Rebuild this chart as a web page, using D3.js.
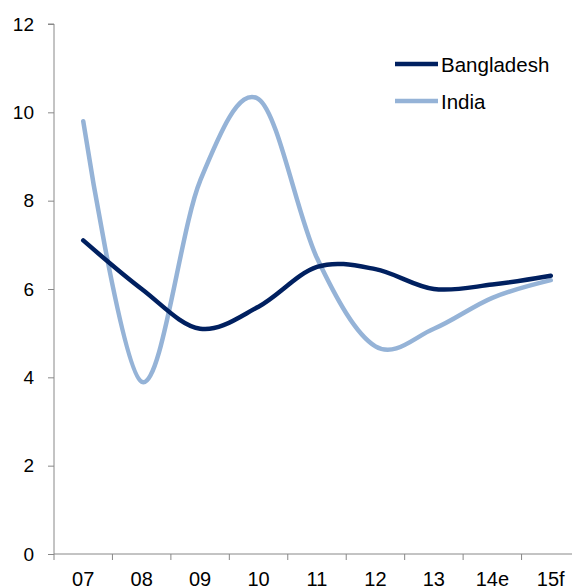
<!DOCTYPE html>
<html>
<head>
<meta charset="utf-8">
<script src="https://cdnjs.cloudflare.com/ajax/libs/d3/7.8.5/d3.min.js"></script>
<style>
  body { margin: 0; background: #fff; }
  svg { display: block; font-family: "Liberation Sans", Arial, sans-serif; }
</style>
</head>
<body>
<svg id="chart" width="572" height="588"></svg>
<script>
"use strict"

const years = ["07", "08", "09", "10", "11", "12", "13", "14e", "15f"]
const bangladesh = [7.1, 6.0, 5.1, 5.6, 6.5, 6.45, 6.0, 6.1, 6.3]
const india = [9.8, 3.9, 8.45, 10.3, 6.7, 4.7, 5.1, 5.8, 6.2]
const yTicks = [0, 2, 4, 6, 8, 10, 12]

const series = [
    {name: "Bangladesh", values: bangladesh, color: "#002060"},
    {name: "India", values: india, color: "#95b3d7"}
]

const svg = d3.select("#chart")
const plot = {left: 54, top: 24, bottom: 554, right: 580}

let x = d3.scaleBand().domain(years).range([plot.left, plot.right])
let y = d3.scaleLinear().domain([0, 12]).range([plot.bottom, plot.top])

// y axis
let yAxis = svg.append("g")
    .attr("transform", "translate(" + plot.left + ",0)")
    .call(d3.axisLeft(y).tickValues(yTicks).tickSize(6))
yAxis.select(".domain").attr("stroke", "#888").attr("d", "M-6," + plot.top + "H0V" + plot.bottom)
yAxis.selectAll(".tick line").attr("stroke", "#888")
yAxis.selectAll(".tick text")
    .attr("fill", "#000")
    .style("font-size", "19px")
    .attr("x", -20)

// x axis, ticks at band edges
let xg = svg.append("g").attr("transform", "translate(0," + plot.bottom + ")")
xg.append("line")
    .attr("x1", plot.left).attr("x2", 572)
    .attr("stroke", "#888")
xg.selectAll(".edge")
    .data(years)
    .enter().append("line")
    .attr("class", "edge")
    .attr("x1", d => x(d)).attr("x2", d => x(d))
    .attr("y1", 0).attr("y2", 6)
    .attr("stroke", "#888")
xg.selectAll("text")
    .data(years)
    .enter().append("text")
    .attr("x", d => x(d) + x.bandwidth() / 2)
    .attr("y", 32)
    .attr("text-anchor", "middle")
    .style("font-size", "20px")
    .text(d => d)

// lines
let line = d3.line()
    .x((d, i) => x(years[i]) + x.bandwidth() / 2)
    .y(d => y(d))
    .curve(d3.curveCardinal.tension(0))

svg.selectAll(".series")
    .data(series.slice().reverse())
    .enter().append("path")
    .attr("class", "series")
    .attr("d", d => line(d.values))
    .attr("fill", "none")
    .attr("stroke", d => d.color)
    .attr("stroke-width", 4.5)
    .attr("stroke-linecap", "round")

// legend
let legend = svg.selectAll(".legend")
    .data(series)
    .enter().append("g")
    .attr("class", "legend")
    .attr("transform", (d, i) => "translate(395," + (64 + i * 37) + ")")
legend.append("line")
    .attr("x1", 0).attr("x2", 43)
    .attr("stroke", d => d.color)
    .attr("stroke-width", 4.5)
legend.append("text")
    .attr("x", 46)
    .attr("y", 7.5)
    .style("font-size", "20.5px")
    .text(d => d.name)
</script>
</body>
</html>
